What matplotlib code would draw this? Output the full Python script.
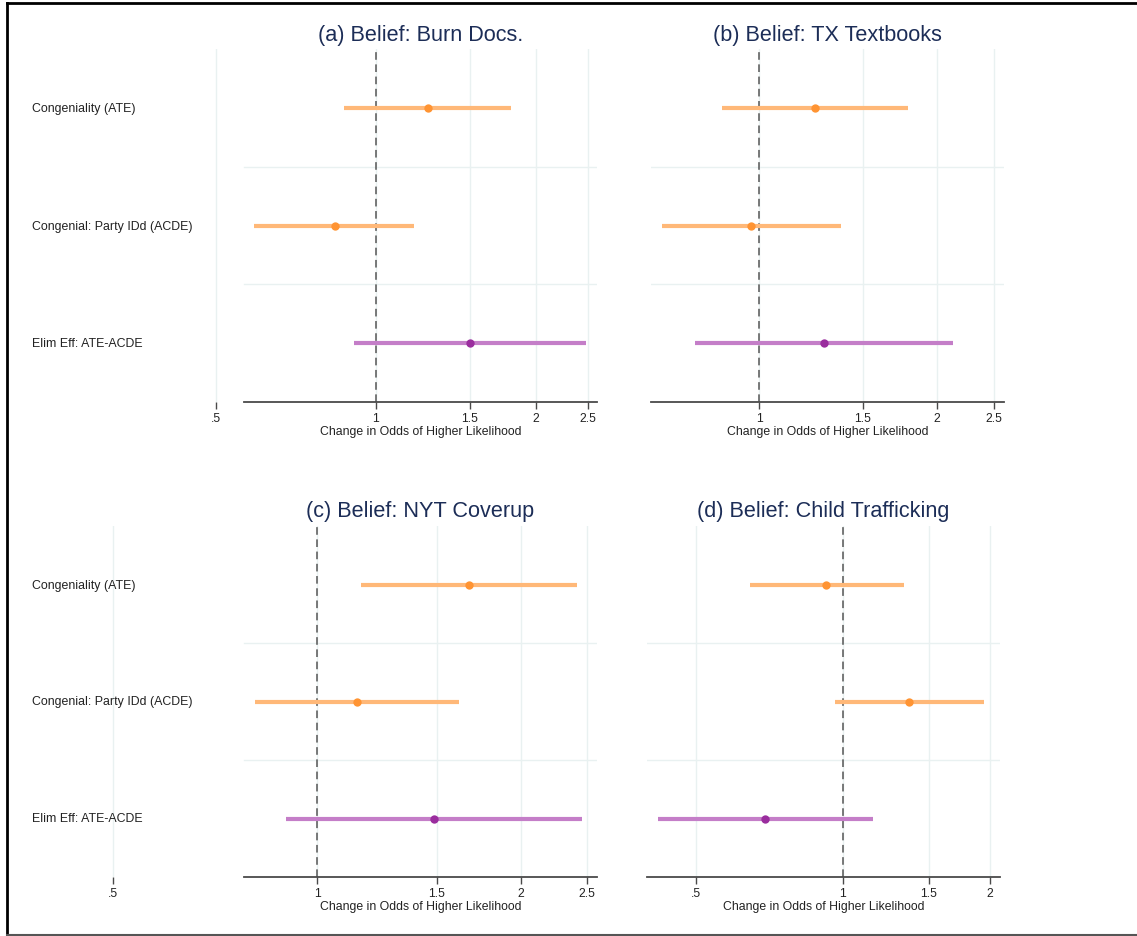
import numpy as np
import matplotlib
matplotlib.use("Agg")
import matplotlib.pyplot as plt
import matplotlib.transforms as mtransforms
from matplotlib.lines import Line2D

plt.rcParams['font.family'] = ['Liberation Sans', 'DejaVu Sans']

# ---- data -------------------------------------------------------------
row_labels = ["Congeniality (ATE)", "Congenial: Party IDd (ACDE)", "Elim Eff: ATE-ACDE"]
titles = ["(a) Belief: Burn Docs.", "(b) Belief: TX Textbooks",
          "(c) Belief: NYT Coverup", "(d) Belief: Child Trafficking"]
xlabel = "Change in Odds of Higher Likelihood"

burn_est = [1.251, 0.836, 1.504]
burn_lo = [0.871, 0.590, 0.911]
burn_hi = [1.796, 1.180, 2.480]

tx_est = [1.244, 0.970, 1.288]
tx_lo = [0.864, 0.684, 0.779]
tx_hi = [1.792, 1.378, 2.135]

nyt_est = [1.673, 1.143, 1.485]
nyt_lo = [1.160, 0.808, 0.898]
nyt_hi = [2.415, 1.620, 2.459]

child_est = [0.926, 1.367, 0.693]
child_lo = [0.645, 0.963, 0.418]
child_hi = [1.336, 1.944, 1.155]

tick_vals_ac = [0.5, 1, 1.5, 2, 2.5]
tick_vals_b = [1, 1.5, 2, 2.5]
tick_vals_d = [0.5, 1, 1.5, 2]
tick_text = {0.5: ".5", 1: "1", 1.5: "1.5", 2: "2", 2.5: "2.5"}

# ---- styling ----------------------------------------------------------
W, H = 1137, 937
ci_colors = ["#ffb878", "#ffb878", "#c47ec8"]
pt_colors = ["#ff9433", "#ff9433", "#9a2d9e"]
grid_col = "#e9f1f1"
axis_col = "#4a4a4a"
title_col = "#1c2d57"
text_col = "#222222"

fig = plt.figure(figsize=(W / 100, H / 100), dpi=100)
fig.patch.set_facecolor("white")


def px_rect(x0, x1, y0, y1):
    return [x0 / W, 1 - y1 / H, (x1 - x0) / W, (y1 - y0) / H]


panels = [
    dict(rect=px_rect(200, 597, 50, 403), xlim=(0.467, 2.603), axis_start=0.564,
         est=burn_est, lo=burn_lo, hi=burn_hi, ticks=tick_vals_ac, labels=True),
    dict(rect=px_rect(651, 1004, 50, 403), xlim=(0.656, 2.602), axis_start=0.656,
         est=tx_est, lo=tx_lo, hi=tx_hi, ticks=tick_vals_b, labels=False),
    dict(rect=px_rect(100, 597, 527, 878), xlim=(0.478, 2.587), axis_start=0.780,
         est=nyt_est, lo=nyt_lo, hi=nyt_hi, ticks=tick_vals_ac, labels=True),
    dict(rect=px_rect(647, 1000, 527, 878), xlim=(0.397, 2.100), axis_start=0.397,
         est=child_est, lo=child_lo, hi=child_hi, ticks=tick_vals_d, labels=False),
]

rows = np.arange(1, len(row_labels) + 1)

for p, title in zip(panels, titles):
    ax = fig.add_axes(p["rect"])
    ax.set_facecolor("none")
    ax.set_xscale("log")
    ax.set_xlim(*p["xlim"])
    ax.set_ylim(len(row_labels) + 0.5, 0.5)
    x0, x1 = p["axis_start"], p["xlim"][1]

    # vertical grid lines at the tick values
    for t in p["ticks"]:
        ax.axvline(t, color=grid_col, lw=1.0, zorder=0)
    # horizontal separators between rows
    for ysep in rows[:-1] + 0.5:
        ax.plot([x0, x1], [ysep, ysep], color=grid_col, lw=1.0, zorder=0)

    # reference line at odds ratio 1
    ax.axvline(1.0, color="#555555", lw=1.1, ls=(0, (5, 3)), zorder=1)

    # confidence intervals and point estimates
    for i, y in enumerate(rows):
        ax.plot([p["lo"][i], p["hi"][i]], [y, y], color=ci_colors[i], lw=3.0,
                solid_capstyle="butt", zorder=2)
        ax.plot(p["est"][i], y, "o", color=pt_colors[i], ms=6.0, mec="none", zorder=3)

    for side in ("top", "right", "left"):
        ax.spines[side].set_visible(False)
    ax.spines["bottom"].set_color(axis_col)
    ax.spines["bottom"].set_linewidth(1.3)
    ax.spines["bottom"].set_bounds(x0, x1)

    ax.set_yticks([])
    ax.xaxis.set_minor_locator(matplotlib.ticker.NullLocator())
    ax.set_xticks(p["ticks"])
    ax.set_xticklabels([tick_text[t] for t in p["ticks"]], fontsize=8.8, color=text_col)
    ax.tick_params(axis="x", direction="out", length=5, width=1.0, color=axis_col, pad=2)

    # title and axis label centred over the drawn axis line
    xmid = np.sqrt(x0 * x1)
    ax.annotate(xlabel, xy=(xmid, 0), xycoords=ax.get_xaxis_transform(),
                xytext=(0, -29 * 0.72), textcoords="offset points",
                ha="center", va="center", fontsize=8.8, color=text_col)
    ax.annotate(title, xy=(xmid, 1), xycoords=ax.get_xaxis_transform(),
                xytext=(0, 15 * 0.72), textcoords="offset points",
                ha="center", va="center", fontsize=15.6, color=title_col)

    if p["labels"]:
        tr = mtransforms.blended_transform_factory(fig.transFigure, ax.transData)
        for y, lab in zip(rows, row_labels):
            fig.text(32 / W, y, lab, transform=tr, ha="left", va="center",
                     fontsize=8.9, color=text_col, zorder=5)

# outer frame (top, left, bottom edges)
fig.add_artist(Line2D([7 / W, 1], [1 - 4 / H, 1 - 4 / H], color="black", lw=2.0,
                      transform=fig.transFigure))
fig.add_artist(Line2D([7 / W, 7 / W], [1 - 4 / H, 0.0], color="black", lw=2.0,
                      transform=fig.transFigure))
fig.add_artist(Line2D([7 / W, 1], [1 / H, 1 / H], color="#555555", lw=1.5,
                      transform=fig.transFigure))

fig.savefig("out.png", dpi=100, facecolor="white")
